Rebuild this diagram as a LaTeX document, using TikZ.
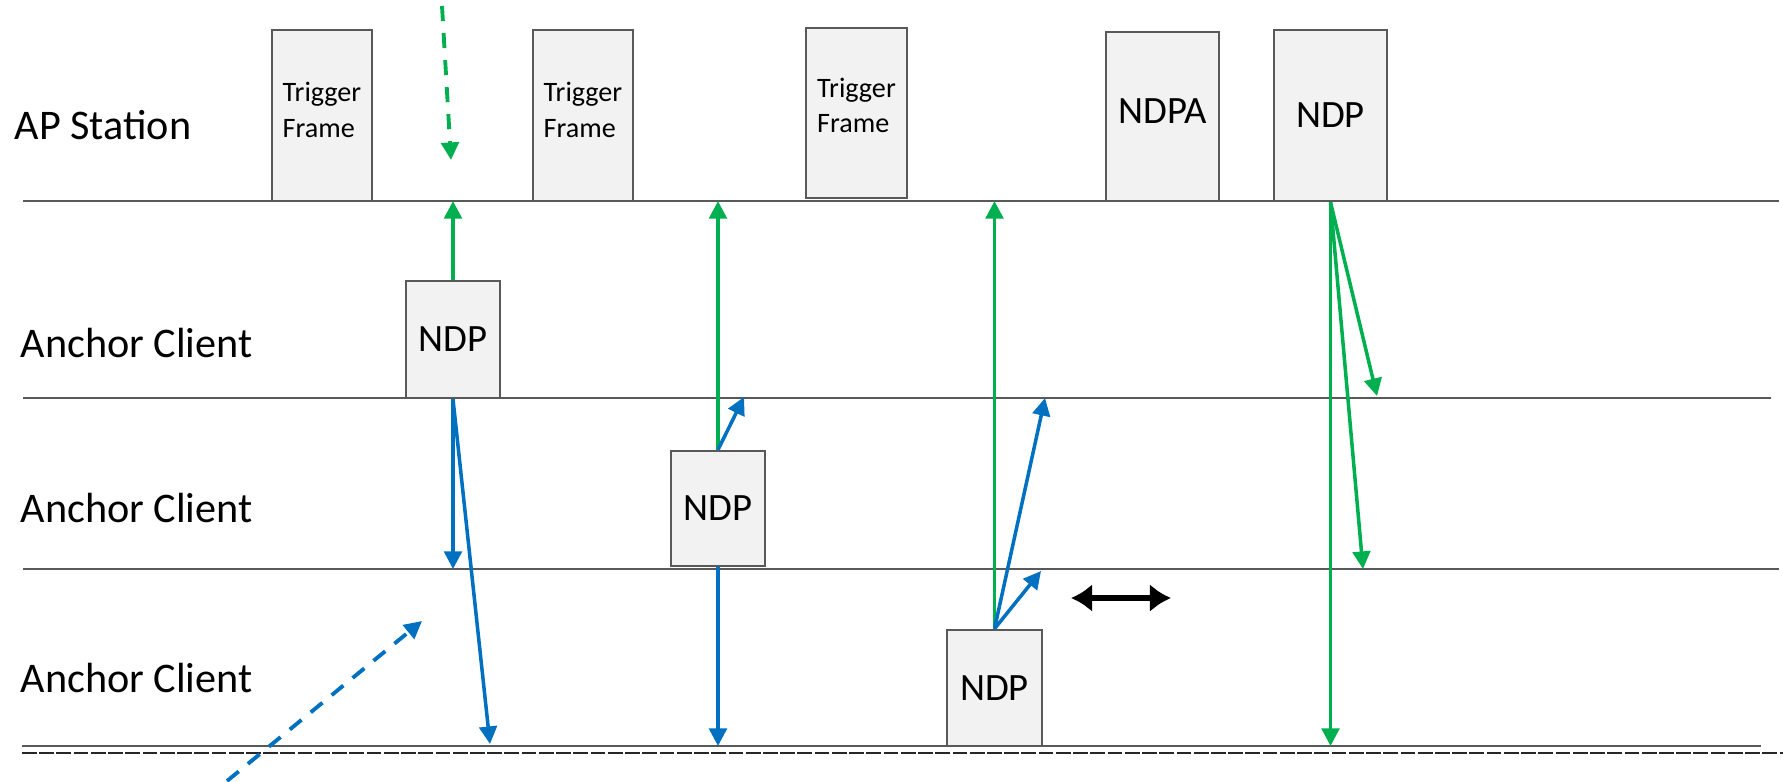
\documentclass[tikz,border=0pt]{standalone}
\usepackage{fontspec}
\setmainfont{Carlito}
\usetikzlibrary{arrows.meta}
\definecolor{sigGreen}{RGB}{0,176,80}
\definecolor{sigBlue}{RGB}{0,112,192}
\definecolor{laneGray}{RGB}{89,89,89}
\definecolor{pktFill}{RGB}{242,242,242}

\begin{document}
\begin{tikzpicture}[x=0.01cm,y=-0.01cm,
    pktbox/.style={draw=laneGray, line width=0.7pt, fill=pktFill, inner sep=0pt},
    lane/.style={laneGray, line width=0.6pt},
    lanelbl/.style={anchor=west, inner sep=0pt, font=\fontsize{12}{14}\selectfont},
    tftext/.style={font=\fontsize{8}{10}\selectfont, align=left, inner sep=0pt},
    ndptext/.style={font=\fontsize{11}{13}\selectfont},
    grn/.style={sigGreen, line width=1pt, -{Triangle[length=5pt,width=5pt]}},
    blu/.style={sigBlue, line width=1pt, -{Triangle[length=5pt,width=5pt]}},
    hint/.style={line width=1.1pt, dash pattern=on 4.3pt off 3.4pt, -{Triangle[length=5pt,width=5pt]}},
    spread/.style={black, line width=1.6pt, {Latex[length=6pt,width=8pt]}-{Latex[length=6pt,width=8pt]}}
]
    \useasboundingbox (0,0) rectangle (1783,781);

    \coordinate (apW) at (23,201);  \coordinate (apE) at (1779,201);
    \coordinate (acAW) at (23,398); \coordinate (acAE) at (1771,398);
    \coordinate (acBW) at (23,569); \coordinate (acBE) at (1779,569);
    \coordinate (acCW) at (22,746); \coordinate (acCE) at (1761,746);
    \coordinate (dotW) at (22,753); \coordinate (dotE) at (1783,753);

    \draw[lane] (apW) -- (apE);
    \draw[lane] (acAW) -- (acAE);
    \draw[lane] (acBW) -- (acBE);
    \draw[lane] (acCW) -- (acCE);
    \draw[black!85, line width=0.4pt, dash pattern=on 4.2pt off 0.7pt] (dotW) -- (dotE);

    \node[lanelbl] (apLbl) at (14,125) {AP Station};
    \node[lanelbl] (acALbl) at (20,343) {Anchor Client};
    \node[lanelbl] (acBLbl) at (20,508) {Anchor Client};
    \node[lanelbl] (acCLbl) at (20,678) {Anchor Client};

    \node[pktbox, minimum width=1cm, minimum height=1.71cm] (tfA) at (322,115.5) {};
    \node[pktbox, minimum width=1cm, minimum height=1.71cm] (tfB) at (583,115.5) {};
    \node[pktbox, minimum width=1.01cm, minimum height=1.70cm] (tfC) at (856.5,113) {};
    \node[tftext] (tfAtxt) at (322,110) {Trigger\\Frame};
    \node[tftext] (tfBtxt) at (583,110) {Trigger\\Frame};
    \node[tftext] (tfCtxt) at (856.5,105) {Trigger\\Frame};
    \node[pktbox, minimum width=1.13cm, minimum height=1.69cm] (ndpa) at (1162.5,116.5) {};
    \node[ndptext] (ndpaTxt) at (1162.5,111) {NDPA};
    \node[pktbox, ndptext, minimum width=1.13cm, minimum height=1.71cm] (ndpT) at (1330.5,115.5) {NDP};

    \node[pktbox, ndptext, minimum width=0.94cm, minimum height=1.17cm] (ndpA) at (453,339.5) {NDP};
    \node[pktbox, ndptext, minimum width=0.94cm, minimum height=1.15cm] (ndpB) at (718,508.5) {NDP};
    \node[pktbox, ndptext, minimum width=0.95cm, minimum height=1.16cm] (ndpC) at (994.5,688) {NDP};

    \coordinate (bA2) at (490,744);
    \coordinate (bB1) at (744,397);
    \coordinate (bC1) at (1045,398);
    \coordinate (bC2) at (1041,571);
    \coordinate (gT1) at (1377,396);
    \coordinate (gT2) at (1363,569);
    \coordinate (hintGs) at (442,6);   \coordinate (hintGe) at (451,160);
    \coordinate (hintBs) at (227,781); \coordinate (hintBe) at (422,621);
    \coordinate (sprL) at (1071,598);  \coordinate (sprR) at (1171,598);

    \draw[grn] (ndpA.north) -- (ndpA.north |- apW);
    \draw[grn] (ndpB.north) -- (ndpB.north |- apW);
    \draw[grn] (ndpC.north) -- (ndpC.north |- apW);
    \draw[grn] (ndpT.south) -- (gT1);
    \draw[grn] (ndpT.south) -- (gT2);
    \draw[grn] (ndpT.south) -- (ndpT.south |- acCW);

    \draw[blu] (ndpA.south) -- (ndpA.south |- acBW);
    \draw[blu] (ndpA.south) -- (bA2);
    \draw[blu] (ndpB.north) -- (bB1);
    \draw[blu] (ndpB.south) -- (ndpB.south |- acCW);
    \draw[blu] (ndpC.north) -- (bC1);
    \draw[blu] (ndpC.north) -- (bC2);

    \draw[hint, sigGreen] (hintGs) -- (hintGe);
    \draw[hint, sigBlue] (hintBs) -- (hintBe);

    \draw[spread] (sprL) -- (sprR);
\end{tikzpicture}
\end{document}
